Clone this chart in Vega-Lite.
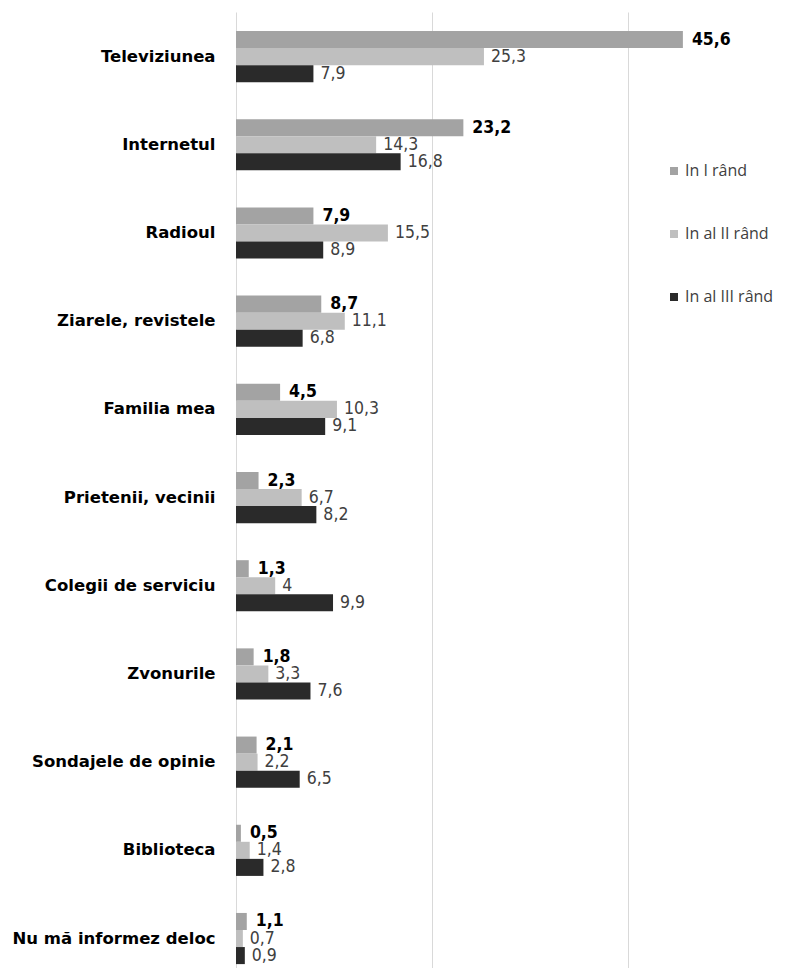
{
  "$schema": "https://vega.github.io/schema/vega-lite/v6.json",
  "width": 574,
  "height": 956,
  "autosize": {"type": "none"},
  "padding": {"left": 236, "top": 12, "right": 0, "bottom": 0},
  "background": "white",
  "config": {"view": {"stroke": null}, "font": "DejaVu Sans"},
  "data": {"values": [
    {"sursa": "Televiziunea", "rand": "In I rând", "val": 45.6, "label": "45,6"},
    {"sursa": "Televiziunea", "rand": "In al II rând", "val": 25.3, "label": "25,3"},
    {"sursa": "Televiziunea", "rand": "In al III rând", "val": 7.9, "label": "7,9"},
    {"sursa": "Internetul", "rand": "In I rând", "val": 23.2, "label": "23,2"},
    {"sursa": "Internetul", "rand": "In al II rând", "val": 14.3, "label": "14,3"},
    {"sursa": "Internetul", "rand": "In al III rând", "val": 16.8, "label": "16,8"},
    {"sursa": "Radioul", "rand": "In I rând", "val": 7.9, "label": "7,9"},
    {"sursa": "Radioul", "rand": "In al II rând", "val": 15.5, "label": "15,5"},
    {"sursa": "Radioul", "rand": "In al III rând", "val": 8.9, "label": "8,9"},
    {"sursa": "Ziarele, revistele", "rand": "In I rând", "val": 8.7, "label": "8,7"},
    {"sursa": "Ziarele, revistele", "rand": "In al II rând", "val": 11.1, "label": "11,1"},
    {"sursa": "Ziarele, revistele", "rand": "In al III rând", "val": 6.8, "label": "6,8"},
    {"sursa": "Familia mea", "rand": "In I rând", "val": 4.5, "label": "4,5"},
    {"sursa": "Familia mea", "rand": "In al II rând", "val": 10.3, "label": "10,3"},
    {"sursa": "Familia mea", "rand": "In al III rând", "val": 9.1, "label": "9,1"},
    {"sursa": "Prietenii, vecinii", "rand": "In I rând", "val": 2.3, "label": "2,3"},
    {"sursa": "Prietenii, vecinii", "rand": "In al II rând", "val": 6.7, "label": "6,7"},
    {"sursa": "Prietenii, vecinii", "rand": "In al III rând", "val": 8.2, "label": "8,2"},
    {"sursa": "Colegii de serviciu", "rand": "In I rând", "val": 1.3, "label": "1,3"},
    {"sursa": "Colegii de serviciu", "rand": "In al II rând", "val": 4, "label": "4"},
    {"sursa": "Colegii de serviciu", "rand": "In al III rând", "val": 9.9, "label": "9,9"},
    {"sursa": "Zvonurile", "rand": "In I rând", "val": 1.8, "label": "1,8"},
    {"sursa": "Zvonurile", "rand": "In al II rând", "val": 3.3, "label": "3,3"},
    {"sursa": "Zvonurile", "rand": "In al III rând", "val": 7.6, "label": "7,6"},
    {"sursa": "Sondajele de opinie", "rand": "In I rând", "val": 2.1, "label": "2,1"},
    {"sursa": "Sondajele de opinie", "rand": "In al II rând", "val": 2.2, "label": "2,2"},
    {"sursa": "Sondajele de opinie", "rand": "In al III rând", "val": 6.5, "label": "6,5"},
    {"sursa": "Biblioteca", "rand": "In I rând", "val": 0.5, "label": "0,5"},
    {"sursa": "Biblioteca", "rand": "In al II rând", "val": 1.4, "label": "1,4"},
    {"sursa": "Biblioteca", "rand": "In al III rând", "val": 2.8, "label": "2,8"},
    {"sursa": "Nu mă informez deloc", "rand": "In I rând", "val": 1.1, "label": "1,1"},
    {"sursa": "Nu mă informez deloc", "rand": "In al II rând", "val": 0.7, "label": "0,7"},
    {"sursa": "Nu mă informez deloc", "rand": "In al III rând", "val": 0.9, "label": "0,9"}
  ]},
  "encoding": {
    "y": {
      "field": "sursa", "type": "nominal", "sort": null,
      "scale": {"paddingInner": 0.42, "paddingOuter": 0.13, "align": 0.83},
      "axis": {"title": null, "domain": false, "ticks": false, "labelPadding": 21,
               "labelFont": "DejaVu Sans", "labelFontWeight": "bold", "labelFontSize": 16.5,
               "labelColor": "#000000", "labelLimit": 300}
    },
    "yOffset": {
      "field": "rand", "type": "nominal",
      "sort": ["In I rând", "In al II rând", "In al III rând"],
      "scale": {"paddingInner": 0, "paddingOuter": 0}
    },
    "x": {
      "field": "val", "type": "quantitative",
      "scale": {"domain": [0, 58.57], "nice": false, "zero": true},
      "axis": {"values": [0, 20, 40], "labels": false, "ticks": false, "domain": false,
               "title": null, "grid": true, "gridColor": "#d9d9d9", "gridWidth": 1}
    }
  },
  "layer": [
    {
      "mark": {"type": "bar"},
      "encoding": {
        "color": {
          "field": "rand", "type": "nominal",
          "sort": ["In I rând", "In al II rând", "In al III rând"],
          "scale": {"domain": ["In I rând", "In al II rând", "In al III rând"],
                    "range": ["#a3a3a3", "#bfbfbf", "#2a2a2a"]},
          "legend": {
            "orient": "none", "legendX": 430, "legendY": 151, "title": null,
            "symbolType": "square", "symbolSize": 64, "symbolOpacity": 1, "symbolStrokeWidth": 0,
            "labelFont": "Open Sans", "labelFontSize": 16, "labelColor": "#404040",
            "rowPadding": 47, "labelOffset": 3, "padding": 0
          }
        }
      }
    },
    {
      "transform": [{"filter": "datum.rand === 'In I rând'"}],
      "mark": {"type": "text", "align": "left", "baseline": "middle", "dx": 9,
               "fontWeight": "bold", "fontSize": 17.5, "font": "DejaVu Sans Condensed, DejaVu Sans", "color": "#000000"},
      "encoding": {"text": {"field": "label", "type": "nominal"}}
    },
    {
      "transform": [{"filter": "datum.rand !== 'In I rând'"}],
      "mark": {"type": "text", "align": "left", "baseline": "middle", "dx": 7,
               "fontSize": 17.5, "font": "DejaVu Sans Condensed, DejaVu Sans", "color": "#404040"},
      "encoding": {"text": {"field": "label", "type": "nominal"}}
    }
  ]
}
